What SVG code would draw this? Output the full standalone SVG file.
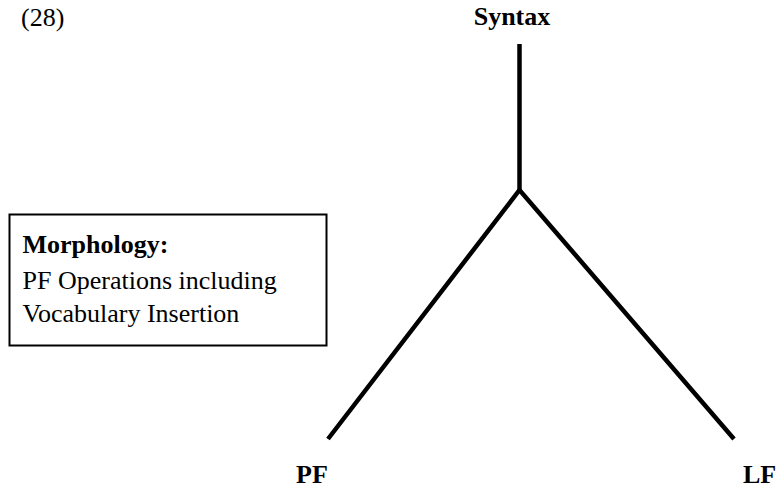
<svg xmlns="http://www.w3.org/2000/svg" width="776" height="488" viewBox="0 0 776 488">
  <style>
    text { font-family: 'Liberation Serif', 'Times New Roman', Times, 'DejaVu Serif', serif; font-size: 26px; fill: #000; }
    .b { font-weight: bold; }
    .ln { stroke: #000; stroke-width: 4.5; fill: none; stroke-linecap: butt; stroke-linejoin: miter; }
  </style>
  <rect width="776" height="488" fill="#fff"/>
  <text x="21" y="26">(28)</text>
  <g id="syntax">
    <text class="b" x="512" y="25" text-anchor="middle">Syntax</text>
  </g>
  <g id="morphology">
    <rect x="9.5" y="214.5" width="317" height="131" fill="#fff" stroke="#000" stroke-width="2"/>
    <text class="b" x="22.5" y="253">Morphology:</text>
    <text x="22.5" y="289" font-size="26.5">PF Operations including</text>
    <text x="22.5" y="322" font-size="26.5">Vocabulary Insertion</text>
  </g>
  <g id="pf">
    <text class="b" x="296" y="483">PF</text>
  </g>
  <g id="lf">
    <text class="b" x="743" y="483">LF</text>
  </g>
  <g id="connectors">
    <line class="ln" x1="519.5" y1="44" x2="519.5" y2="190"/>
    <polyline class="ln" points="328,439 519.5,190 734,439"/>
  </g>
</svg>
